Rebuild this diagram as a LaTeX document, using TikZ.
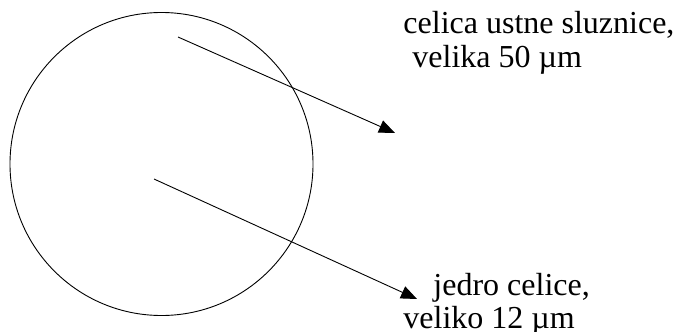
\documentclass[tikz,border=0pt]{standalone}
\usepackage{fontspec}
\setmainfont{Liberation Serif}
\usetikzlibrary{arrows.meta}

\begin{document}
\begin{tikzpicture}[>={Triangle[length=16pt,width=13pt]}, x=1pt, y=-1pt, line width=0.9pt]
  %================= Styles =================
  \tikzset{
    txt/.style={anchor=base west, inner sep=0pt, font=\fontsize{32}{34}\selectfont},
    pointer/.style={->, line width=0.9pt}
  }
  % frame of the whole picture (pixel units, y down)
  \useasboundingbox (0,0) rectangle (675,332);

  %================= Cell =================
  \node[draw, circle, minimum size=303pt, inner sep=0pt] (cell) at (161.5,164) {};

  %================= Pointer ends =================
  \coordinate (cellfrom) at (178,37);
  \coordinate (cellto)   at (395,133);
  \coordinate (nucfrom)  at (154,179);
  \coordinate (nucto)    at (417,299);

  %================= Labels =================
  \node[txt] (celltxtA) at (403,33)  {celica ustne sluznice,};
  \node[txt] (celltxtB) at (412,67)  {velika 50 µm};
  \node[txt] (nuctxtA)  at (433,295) {jedro celice,};
  \node[txt] (nuctxtB)  at (403,328) {veliko 12 µm};

  %================= Pointers =================
  \draw[pointer] (cellfrom) -- (cellto);
  \draw[pointer] (nucfrom) -- (nucto);
\end{tikzpicture}
\end{document}
